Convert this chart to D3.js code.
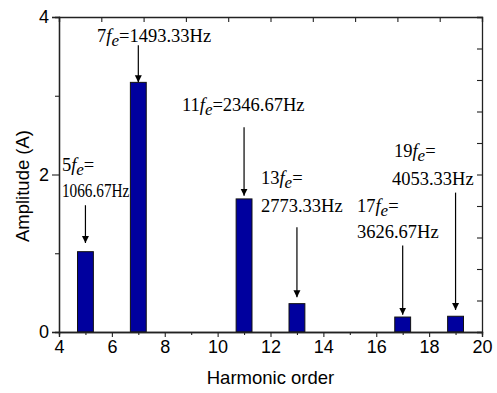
<html>
<head>
<title>Harmonic spectrum</title>
<script src="https://d3js.org/d3.v7.min.js"></script>
<style>
  body { margin: 0; background: #fff; }
  svg { display: block; }
  .tick text { font-family: "Liberation Sans", Arial, sans-serif; font-size: 18px; fill: #000; }
  .note { font-family: "Liberation Serif", "Times New Roman", serif; font-size: 18.5px; fill: #000; }
  .lab { font-family: "Liberation Sans", Arial, sans-serif; font-size: 18.5px; fill: #000; }
</style>
</head>
<body>
<svg width="497" height="393"></svg>
<script>
// harmonic orders and their amplitudes (A)
var orders = [5, 7, 11, 13, 17, 19];
var amplitudes = [1.02, 3.17, 1.69, 0.36, 0.19, 0.20];
var freqLabels = ["1066.67Hz", "1493.33Hz", "2346.67Hz", "2773.33Hz", "3626.67Hz", "4053.33Hz"];
var xTicks = [4, 6, 8, 10, 12, 14, 16, 18, 20];
var yTicks = [0, 2, 4];

// where each annotation sits (in axis units): text x, baselines, arrow start/end
var noteX = [4.11, 5.44, 8.65, 11.64, 15.27, 16.67];
var noteLines = [2, 1, 1, 2, 2, 2];
var noteB1 = [2.04, 3.68, 2.81, 1.88, 1.52, 2.22];
var noteB2 = [1.71, null, null, 1.52, 1.19, 1.87];
var arrowFrom = [1.61, 3.64, 2.60, 1.33, 1.10, 1.77];
var arrowTo = [1.13, 3.17, 1.73, 0.44, 0.22, 0.28];

var svg = d3.select("svg");
var mLeft = 59, mRight = 482, mTop = 17, mBottom = 332;

var x = d3.scaleLinear().domain([4, 20]).range([mLeft, mRight]);
var y = d3.scaleLinear().domain([0, 4]).range([mBottom, mTop]);
var bw = x(4.6) - x(4);

svg.append("defs").append("marker")
  .attr("id", "arr")
  .attr("viewBox", "0 0 10 10")
  .attr("refX", 10).attr("refY", 5)
  .attr("markerWidth", 7).attr("markerHeight", 10)
  .attr("markerUnits", "userSpaceOnUse")
  .attr("orient", "auto")
  .append("path").attr("d", "M0,0 L10,5 L0,10 Z").attr("fill", "#000");

// annotations (drawn before bars)
var notes = svg.append("g");
orders.forEach(function (o, i) {
  var t = notes.append("text").attr("class", "note")
    .attr("x", x(noteX[i])).attr("y", y(noteB1[i]));
  t.append("tspan").text(o);
  t.append("tspan").attr("font-style", "italic").text("f");
  t.append("tspan").attr("font-style", "italic").attr("font-size", "17px").attr("dy", 4).text("e");
  t.append("tspan").attr("dy", -4).text("=" + (noteLines[i] === 1 ? freqLabels[i] : ""));
  if (noteLines[i] === 2) {
    var t2 = notes.append("text").attr("class", "note")
      .attr("x", x(noteX[i]) - (i === 5 ? 2 : 0)).attr("y", y(noteB2[i]))
      .text(freqLabels[i]);
    // squeeze the line if it would run into the next bar
    if (i + 1 < orders.length) {
      var room = x(orders[i + 1]) - bw / 2 - x(noteX[i]) - 1;
      if (t2.node().getComputedTextLength() > room) {
        t2.attr("textLength", room).attr("lengthAdjust", "spacingAndGlyphs");
      }
    }
  }
  notes.append("line")
    .attr("x1", x(o)).attr("x2", x(o))
    .attr("y1", y(arrowFrom[i])).attr("y2", y(arrowTo[i]))
    .attr("stroke", "#000").attr("stroke-width", 1.2)
    .attr("marker-end", "url(#arr)");
});

// bars
svg.append("g").selectAll("rect")
  .data(orders)
  .enter().append("rect")
  .attr("x", function (d) { return x(d) - bw / 2; })
  .attr("y", function (d, i) { return y(amplitudes[i]); })
  .attr("width", bw)
  .attr("height", function (d, i) { return y(0) - y(amplitudes[i]); })
  .attr("fill", "#00009e")
  .attr("stroke", "#111")
  .attr("stroke-width", 1);

// frame axes: top and right with ten inward ticks, no labels
svg.append("g").attr("transform", "translate(0," + mTop + ")")
  .call(d3.axisTop(x).tickValues(d3.range(11).map(function (k) { return 4 + k * 1.6; }))
    .tickSize(-5).tickFormat(""));
svg.append("g").attr("transform", "translate(" + mRight + ",0)")
  .call(d3.axisRight(y).tickValues(d3.range(11).map(function (k) { return k * 0.4; }))
    .tickSize(-5).tickFormat(""));

// minor ticks
svg.append("g").attr("transform", "translate(0," + mBottom + ")")
  .call(d3.axisBottom(x).tickValues([5, 7, 9, 11, 13, 15, 17, 19]).tickSize(3).tickFormat(""));
svg.append("g").attr("transform", "translate(" + mLeft + ",0)")
  .call(d3.axisLeft(y).tickValues([1, 3]).tickSize(4).tickFormat(""));

svg.append("g").attr("transform", "translate(0," + mBottom + ")")
  .call(d3.axisBottom(x).tickValues(xTicks).tickSize(5).tickPadding(3));
svg.append("g").attr("transform", "translate(" + mLeft + ",0)")
  .call(d3.axisLeft(y).tickValues(yTicks).tickFormat(d3.format("d")).tickSize(7).tickPadding(3));

svg.selectAll(".domain").attr("stroke", "#222").attr("stroke-width", 1.3);
svg.selectAll(".tick line").attr("stroke", "#222").attr("stroke-width", 1.1);

svg.append("text").attr("class", "lab")
  .attr("x", (mLeft + mRight) / 2).attr("y", 384)
  .attr("text-anchor", "middle")
  .text("Harmonic order");

svg.append("text").attr("class", "lab")
  .attr("transform", "translate(29,186) rotate(-90)")
  .attr("text-anchor", "middle")
  .text("Amplitude (A)");
</script>
</body>
</html>
